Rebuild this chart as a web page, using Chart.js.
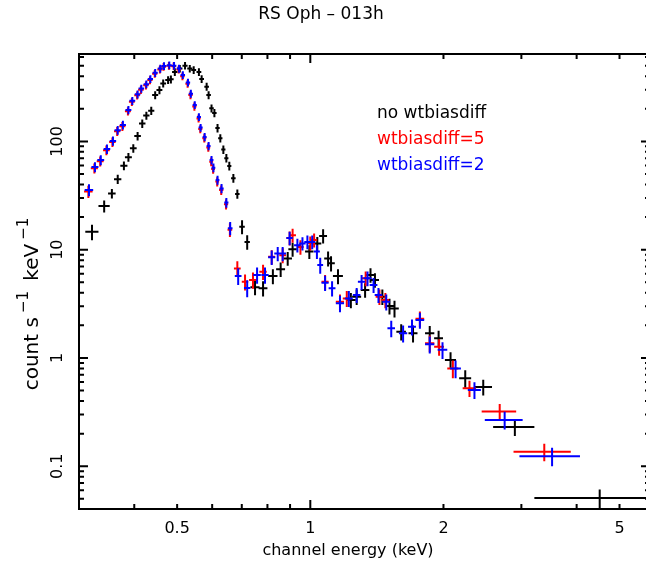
<!DOCTYPE html>
<html>
<head>
<meta charset="utf-8">
<script src="https://cdn.jsdelivr.net/npm/chart.js@4"></script>
<style>
  html, body { margin: 0; padding: 0; background: #fff; overflow: hidden; }
  #wrap { width: 646px; height: 567px; overflow: hidden; }
</style>
</head>
<body>
<div id="wrap"><canvas id="spec" width="660" height="567"></canvas></div>
<script>
// RS Oph - 013h, channel energy (keV) vs count s^-1 keV^-1
var seriesNames = ["no wtbiasdiff", "wtbiasdiff=5", "wtbiasdiff=2"];
var seriesColors = ["#000000", "#ff0000", "#0000ff"];

var xTickLabels = [0.5, 1, 2, 5];
var yTickLabels = [0.1, 1, 10, 100];

// no wtbiasdiff
var noBiasE = [0.321, 0.342, 0.356, 0.367, 0.379, 0.388, 0.398, 0.407, 0.417, 0.426, 0.437, 0.446, 0.456, 0.465, 0.477, 0.484, 0.494, 0.507, 0.521, 0.534, 0.545, 0.560, 0.568, 0.583, 0.589, 0.598, 0.607, 0.617, 0.626, 0.636, 0.646, 0.656, 0.670, 0.684, 0.701, 0.720, 0.750, 0.782, 0.823, 0.857, 0.889, 0.912, 0.995, 1.037, 1.069, 1.097, 1.114, 1.155, 1.235, 1.273, 1.330, 1.368, 1.400, 1.455, 1.510, 1.550, 1.605, 1.707, 1.862, 1.950, 2.075, 2.240, 2.46, 2.90, 4.51];
var noBiasEErr = [0.011, 0.01, 0.007, 0.007, 0.007, 0.007, 0.007, 0.007, 0.007, 0.007, 0.007, 0.007, 0.007, 0.007, 0.007, 0.007, 0.007, 0.007, 0.007, 0.007, 0.007, 0.007, 0.007, 0.007, 0.007, 0.007, 0.007, 0.007, 0.007, 0.007, 0.007, 0.007, 0.008, 0.008, 0.01, 0.01, 0.018, 0.018, 0.02, 0.02, 0.02, 0.02, 0.022, 0.022, 0.022, 0.022, 0.022, 0.03, 0.03, 0.03, 0.03, 0.03, 0.03, 0.035, 0.035, 0.035, 0.04, 0.04, 0.045, 0.045, 0.06, 0.07, 0.115, 0.31, 1.30];
var noBiasRate = [14.6, 25.3, 33.0, 44.8, 59.7, 71.3, 86.5, 112, 146, 173, 192, 268, 298, 343, 369, 374, 438, 470, 500, 470, 456, 438, 377, 320, 268, 202, 183, 133, 107, 84, 70, 59.3, 45.7, 32.7, 16.3, 11.8, 4.5, 4.4, 5.7, 6.6, 8.3, 10.1, 9.6, 11.4, 13.4, 8.3, 7.5, 5.7, 3.43, 3.68, 4.25, 5.84, 5.25, 3.68, 3.02, 2.87, 1.75, 1.69, 1.69, 1.52, 0.96, 0.65, 0.54, 0.23, 0.051];
var noBiasRateErr = [2.4, 3.2, 3.3, 4.3, 5.6, 6.6, 7.8, 10, 13, 15, 17, 23, 25, 29, 31, 31, 36, 38, 40, 38, 37, 36, 31, 27, 23, 17, 16, 12, 9.5, 7.5, 6.3, 5.4, 4.3, 3.2, 2.4, 1.8, 0.7, 0.7, 0.9, 1.0, 1.2, 1.5, 1.4, 1.7, 2.0, 1.3, 1.2, 0.9, 0.55, 0.6, 0.65, 0.9, 0.8, 0.6, 0.5, 0.5, 0.3, 0.3, 0.28, 0.26, 0.17, 0.12, 0.09, 0.04, 0.01];

// wtbiasdiff=5
var bias5E = [0.315, 0.325, 0.335, 0.346, 0.357, 0.366, 0.376, 0.387, 0.395, 0.406, 0.414, 0.425, 0.434, 0.445, 0.457, 0.466, 0.479, 0.491, 0.504, 0.514, 0.528, 0.536, 0.547, 0.559, 0.564, 0.576, 0.588, 0.597, 0.603, 0.616, 0.629, 0.645, 0.658, 0.684, 0.712, 0.742, 0.782, 0.818, 0.866, 0.898, 0.912, 0.950, 1.000, 1.020, 1.080, 1.167, 1.209, 1.334, 1.433, 1.478, 1.769, 1.862, 1.955, 2.10, 2.29, 2.68, 3.38];
var bias5EErr = [0.007, 0.006, 0.006, 0.006, 0.006, 0.006, 0.006, 0.006, 0.006, 0.006, 0.006, 0.006, 0.006, 0.006, 0.006, 0.006, 0.006, 0.006, 0.006, 0.006, 0.006, 0.006, 0.006, 0.006, 0.006, 0.006, 0.006, 0.006, 0.006, 0.006, 0.007, 0.007, 0.008, 0.012, 0.012, 0.015, 0.015, 0.015, 0.015, 0.015, 0.016, 0.016, 0.016, 0.016, 0.02, 0.025, 0.025, 0.028, 0.028, 0.03, 0.04, 0.045, 0.05, 0.06, 0.08, 0.24, 0.50];
var bias5Rate = [34.5, 56.5, 65.5, 83.0, 98.5, 124, 138, 190, 232, 266, 300, 330, 368, 421, 462, 490, 500, 495, 462, 400, 340, 268, 210, 163, 130, 107, 88, 65, 55.5, 42.5, 35.5, 26.3, 15.3, 6.7, 5.05, 5.25, 6.25, 8.6, 8.9, 12.8, 13.6, 10.6, 11.5, 12.3, 5.05, 3.3, 3.55, 5.45, 3.68, 3.43, 2.30, 1.37, 1.27, 0.80, 0.525, 0.32, 0.136];
var bias5RateErr = [4.5, 6, 7, 8.5, 10, 12, 13, 17, 20, 23, 26, 28, 31, 35, 38, 40, 41, 40, 38, 33, 28, 23, 18, 14, 11, 9.5, 8, 6, 5.2, 4.2, 3.6, 2.8, 2.2, 1.1, 0.85, 0.9, 1.0, 1.3, 1.4, 1.9, 2.0, 1.6, 1.7, 1.8, 0.8, 0.55, 0.6, 0.85, 0.6, 0.55, 0.38, 0.24, 0.22, 0.15, 0.09, 0.055, 0.025];

// wtbiasdiff=2
var bias2E = [0.316, 0.326, 0.336, 0.347, 0.358, 0.367, 0.377, 0.388, 0.396, 0.407, 0.415, 0.426, 0.435, 0.446, 0.458, 0.467, 0.480, 0.492, 0.505, 0.515, 0.529, 0.537, 0.548, 0.560, 0.565, 0.577, 0.589, 0.598, 0.604, 0.617, 0.630, 0.646, 0.659, 0.687, 0.720, 0.758, 0.790, 0.818, 0.844, 0.866, 0.898, 0.935, 0.960, 0.985, 1.010, 1.035, 1.053, 1.080, 1.120, 1.167, 1.222, 1.273, 1.306, 1.347, 1.390, 1.426, 1.485, 1.524, 1.621, 1.698, 1.769, 1.862, 1.990, 2.13, 2.35, 2.75, 3.52];
var bias2EErr = [0.007, 0.006, 0.006, 0.006, 0.006, 0.006, 0.006, 0.006, 0.006, 0.006, 0.006, 0.006, 0.006, 0.006, 0.006, 0.006, 0.006, 0.006, 0.006, 0.006, 0.006, 0.006, 0.006, 0.006, 0.006, 0.006, 0.006, 0.006, 0.006, 0.006, 0.007, 0.007, 0.008, 0.012, 0.012, 0.015, 0.015, 0.015, 0.015, 0.015, 0.015, 0.016, 0.016, 0.016, 0.016, 0.016, 0.016, 0.02, 0.02, 0.025, 0.025, 0.025, 0.025, 0.028, 0.028, 0.028, 0.03, 0.03, 0.035, 0.035, 0.04, 0.045, 0.05, 0.06, 0.08, 0.27, 0.55];
var bias2Rate = [35.6, 58.0, 67.3, 85.1, 101, 127, 142, 195, 237, 272, 307, 337, 377, 430, 470, 497, 505, 500, 470, 410, 350, 276, 217, 168, 134, 110, 90.8, 67.3, 57.2, 44.0, 36.8, 27.2, 15.8, 5.72, 4.43, 5.84, 5.84, 8.5, 9.2, 9.2, 12.8, 11.0, 11.4, 11.8, 11.8, 9.6, 7.2, 4.95, 4.4, 3.2, 3.55, 3.82, 5.05, 5.45, 4.72, 3.82, 3.3, 1.88, 1.69, 1.94, 2.24, 1.34, 1.19, 0.80, 0.507, 0.268, 0.124];
var bias2RateErr = [4.5, 6, 7, 8.5, 10, 12, 13, 17, 20, 23, 26, 28, 31, 36, 39, 41, 42, 41, 39, 34, 29, 23, 18, 14, 11, 9.5, 8, 6, 5.2, 4.2, 3.6, 2.8, 2.2, 1.0, 0.8, 1.0, 1.0, 1.3, 1.4, 1.4, 1.8, 1.6, 1.6, 1.7, 1.7, 1.4, 1.2, 0.8, 0.7, 0.55, 0.6, 0.6, 0.8, 0.85, 0.75, 0.6, 0.55, 0.33, 0.3, 0.33, 0.38, 0.24, 0.21, 0.15, 0.09, 0.05, 0.024];

var FONT = '"DejaVu Sans", sans-serif';

function points(e, de, r, dr) {
  var out = [];
  for (var i = 0; i < e.length; i++) {
    out.push({ x: e[i], y: r[i], xerr: de[i], yerr: dr[i] });
  }
  return out;
}

// crosses: horizontal bar = bin width, vertical bar = rate error
var crosses = {
  id: "crosses",
  afterDatasetsDraw: function (chart) {
    var ctx = chart.ctx, xs = chart.scales.x, ys = chart.scales.y, a = chart.chartArea;
    ctx.save();
    ctx.beginPath();
    ctx.rect(a.left, a.top, a.right - a.left, a.bottom - a.top);
    ctx.clip();
    ctx.lineWidth = 2;
    chart.data.datasets.forEach(function (ds) {
      ctx.strokeStyle = ds.borderColor;
      ctx.beginPath();
      ds.data.forEach(function (p) {
        var px = xs.getPixelForValue(p.x), py = ys.getPixelForValue(p.y);
        var lo = Math.max(p.y - p.yerr, ys.min);
        ctx.moveTo(xs.getPixelForValue(p.x - p.xerr), py);
        ctx.lineTo(xs.getPixelForValue(p.x + p.xerr), py);
        ctx.moveTo(px, ys.getPixelForValue(p.y + p.yerr));
        ctx.lineTo(px, ys.getPixelForValue(lo));
      });
      ctx.stroke();
    });
    ctx.restore();
  }
};

// IDL-like frame with inward ticks, labels, title and text legend
var frame = {
  id: "frame",
  afterDraw: function (chart) {
    var ctx = chart.ctx, xs = chart.scales.x, ys = chart.scales.y, a = chart.chartArea;
    ctx.save();
    ctx.strokeStyle = "#000";
    ctx.lineWidth = 2;
    ctx.strokeRect(a.left, a.top, a.right - a.left, a.bottom - a.top);

    ctx.beginPath();
    for (var d = -2; d <= 3; d++) {
      for (var m = 1; m <= 9; m++) {
        var v = m * Math.pow(10, d);
        var len = m === 1 ? 9 : 5;
        if (v >= xs.min && v <= xs.max) {
          var px = xs.getPixelForValue(v);
          ctx.moveTo(px, a.bottom); ctx.lineTo(px, a.bottom - len);
          ctx.moveTo(px, a.top); ctx.lineTo(px, a.top + len);
        }
        if (v >= ys.min && v <= ys.max) {
          var py = ys.getPixelForValue(v);
          ctx.moveTo(a.left, py); ctx.lineTo(a.left + len, py);
          ctx.moveTo(a.right, py); ctx.lineTo(a.right - len, py);
        }
      }
    }
    ctx.stroke();

    ctx.fillStyle = "#000";
    ctx.font = "16px " + FONT;
    ctx.textAlign = "center";
    ctx.textBaseline = "middle";
    xTickLabels.forEach(function (v) {
      ctx.fillText(String(v), xs.getPixelForValue(v), a.bottom + 20);
    });
    yTickLabels.forEach(function (v) {
      ctx.save();
      ctx.translate(a.left - 21, ys.getPixelForValue(v));
      ctx.rotate(-Math.PI / 2);
      ctx.fillText(String(v), 0, 0);
      ctx.restore();
    });

    // x axis title
    ctx.fillText("channel energy (keV)", 348, 551);

    // y axis title with superscripts
    var parts = [["count s", 0], ["\u22121", 1], [" keV", 0], ["\u22121", 1]];
    var big = "20px " + FONT, small = "15px " + FONT, gap = 4, total = 0;
    parts.forEach(function (p) { ctx.font = p[1] ? small : big; total += ctx.measureText(p[0]).width + (p[1] ? 2 * gap : 0); });
    ctx.save();
    ctx.translate(33, 302);
    ctx.rotate(-Math.PI / 2);
    ctx.textAlign = "left";
    var cx = -total / 2;
    parts.forEach(function (p) {
      ctx.font = p[1] ? small : big;
      if (p[1]) cx += gap;
      ctx.fillText(p[0], cx, p[1] ? -9 : 0);
      cx += ctx.measureText(p[0]).width + (p[1] ? gap : 0);
    });
    ctx.restore();

    // title
    ctx.font = "17px " + FONT;
    ctx.textAlign = "center";
    ctx.fillText("RS Oph \u2013 013h", 321, 15);

    // legend
    ctx.textAlign = "left";
    ctx.font = "17px " + FONT;
    seriesNames.forEach(function (n, i) {
      ctx.fillStyle = seriesColors[i];
      ctx.fillText(n, 377, 114 + i * 26);
    });
    ctx.restore();
  }
};

new Chart(document.getElementById("spec"), {
  type: "scatter",
  data: {
    datasets: [
      { label: seriesNames[0], borderColor: seriesColors[0], data: points(noBiasE, noBiasEErr, noBiasRate, noBiasRateErr) },
      { label: seriesNames[1], borderColor: seriesColors[1], data: points(bias5E, bias5EErr, bias5Rate, bias5RateErr) },
      { label: seriesNames[2], borderColor: seriesColors[2], data: points(bias2E, bias2EErr, bias2Rate, bias2RateErr) }
    ]
  },
  options: {
    responsive: false,
    animation: false,
    devicePixelRatio: 1,
    elements: { point: { radius: 0, hoverRadius: 0 } },
    layout: { padding: { left: 79, top: 54, right: 10, bottom: 58 } },
    scales: {
      x: { type: "logarithmic", min: 0.3113, max: 5.86, display: false },
      y: { type: "logarithmic", min: 0.0403, max: 641, display: false }
    },
    plugins: { legend: { display: false }, tooltip: { enabled: false }, title: { display: false } }
  },
  plugins: [crosses, frame]
});
</script>
</body>
</html>
